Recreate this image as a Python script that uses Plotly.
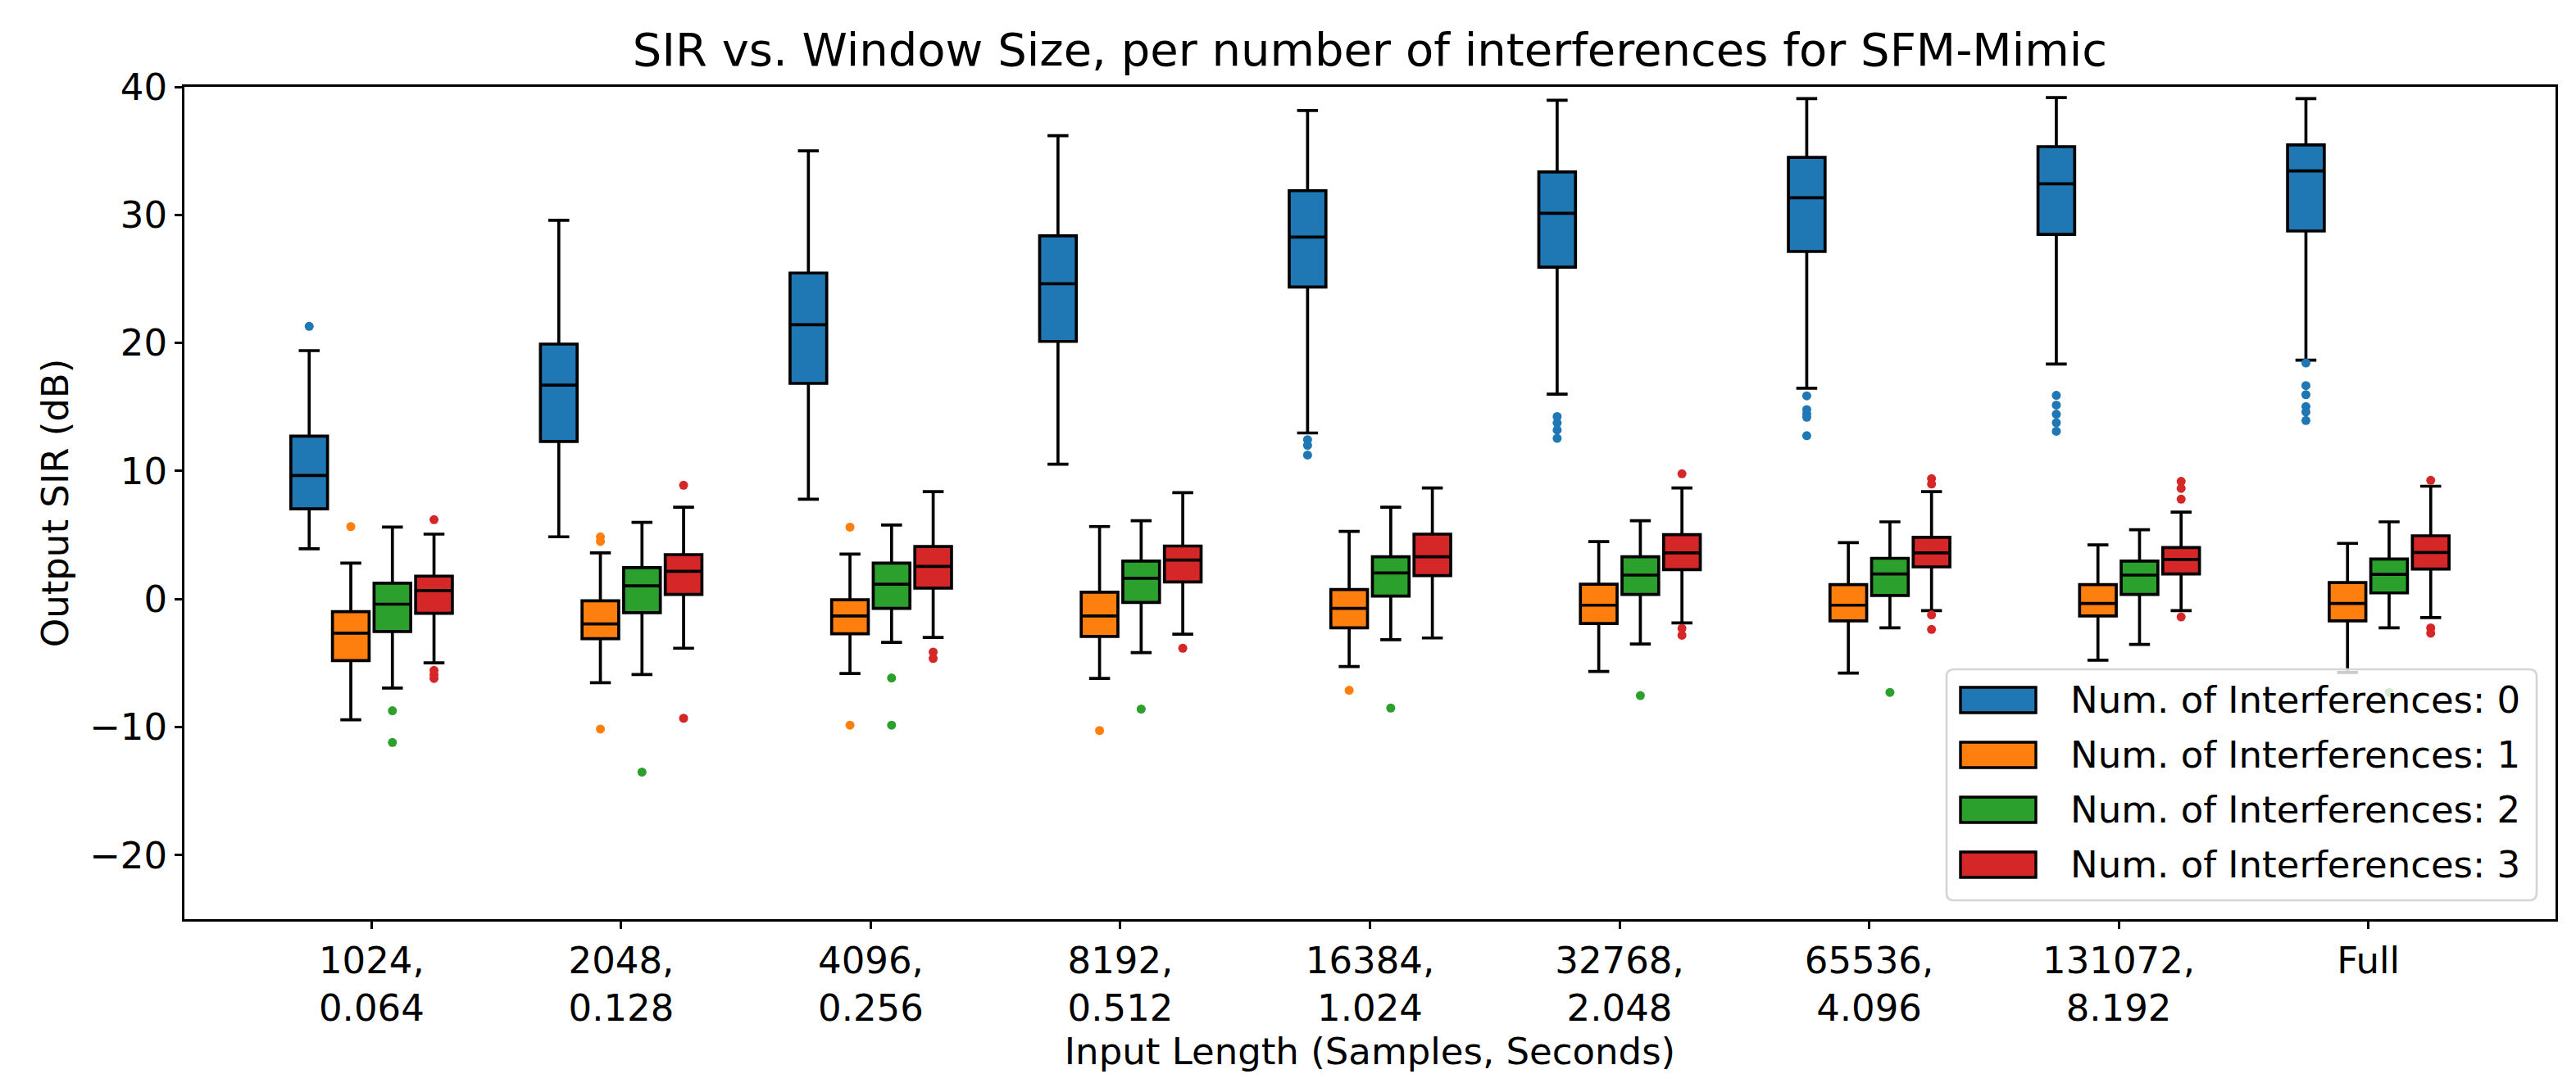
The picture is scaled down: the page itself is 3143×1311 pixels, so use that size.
import plotly.graph_objects as go

# ---------------- data ----------------
categories = ["1024,<br>0.064", "2048,<br>0.128", "4096,<br>0.256", "8192,<br>0.512",
              "16384,<br>1.024", "32768,<br>2.048", "65536,<br>4.096", "131072,<br>8.192", "Full"]
series_names = ["Num. of Interferences: 0", "Num. of Interferences: 1",
                "Num. of Interferences: 2", "Num. of Interferences: 3"]
colors = ["#1f77b4", "#ff7f0e", "#2ca02c", "#d62728"]

# Interferences: 0
upper_0 = [19.40, 29.58, 35.00, 36.18, 38.15, 38.95, 39.08, 39.16, 39.08]
q3_0 = [12.72, 19.91, 25.46, 28.36, 31.89, 33.36, 34.49, 35.33, 35.46]
med_0 = [9.65, 16.71, 21.42, 24.62, 28.27, 30.12, 31.34, 32.43, 33.44]
q1_0 = [7.05, 12.30, 16.84, 20.12, 24.36, 25.92, 27.14, 28.48, 28.74]
lower_0 = [3.93, 4.86, 7.80, 10.53, 12.97, 16.00, 16.46, 18.35, 18.65]
out_0 = [[21.3], [], [], [], [12.45, 12.0, 11.25], [14.25, 13.75, 13.2, 12.55],
         [15.87, 14.8, 14.45, 14.2, 12.76], [15.91, 15.15, 14.44, 13.77, 13.10],
         [18.44, 16.67, 15.96, 15.03, 14.61, 13.94]]

# Interferences: 1
upper_1 = [2.80, 3.60, 3.51, 5.66, 5.28, 4.48, 4.40, 4.23, 4.35]
q3_1 = [-0.98, -0.14, -0.06, 0.53, 0.74, 1.16, 1.12, 1.12, 1.28]
med_1 = [-2.66, -1.95, -1.32, -1.32, -0.73, -0.48, -0.48, -0.35, -0.35]
q1_1 = [-4.81, -3.09, -2.71, -2.92, -2.25, -1.91, -1.70, -1.32, -1.70]
lower_1 = [-9.43, -6.53, -5.82, -6.20, -5.27, -5.65, -5.78, -4.77, -5.73]
out_1 = [[5.66], [4.86, 4.5, -10.15], [5.62, -9.85], [-10.27], [-7.12], [], [], [], []]

# Interferences: 2
upper_2 = [5.62, 5.99, 5.78, 6.12, 7.17, 6.12, 6.03, 5.41, 6.03]
q3_2 = [1.24, 2.46, 2.80, 2.97, 3.30, 3.30, 3.18, 2.97, 3.13]
med_2 = [-0.40, 1.03, 1.16, 1.62, 2.04, 1.87, 1.96, 1.87, 1.92]
q1_2 = [-2.54, -1.07, -0.73, -0.27, 0.23, 0.36, 0.28, 0.36, 0.48]
lower_2 = [-6.95, -5.90, -3.38, -4.18, -3.17, -3.51, -2.25, -3.55, -2.25]
out_2 = [[-8.72, -11.20], [-13.51], [-6.16, -9.85], [-8.59], [-8.51], [-7.54], [-7.29], [], [-7.29]]

# Interferences: 3
upper_3 = [5.07, 7.17, 8.39, 8.31, 8.68, 8.68, 8.39, 6.79, 8.81]
q3_3 = [1.79, 3.47, 4.10, 4.14, 5.07, 5.03, 4.82, 4.02, 4.94]
med_3 = [0.66, 2.17, 2.55, 3.05, 3.30, 3.60, 3.60, 3.09, 3.64]
q1_3 = [-1.11, 0.36, 0.86, 1.33, 1.83, 2.30, 2.51, 1.96, 2.34]
lower_3 = [-4.98, -3.84, -3.00, -2.75, -3.04, -1.87, -0.90, -0.90, -1.45]
out_3 = [[6.20, -5.57, -5.9, -6.20], [8.89, -9.31], [-4.14, -4.64], [-3.84], [],
         [9.78, -2.29, -2.83], [9.40, 8.98, -1.24, -2.37], [9.19, 8.64, 7.80, -1.40],
         [9.27, -2.25, -2.67]]

y_tickvals = [-20, -10, 0, 10, 20, 30, 40]
y_ticktext = ["\u221220", "\u221210", "0", "10", "20", "30", "40"]

title_text = "SIR vs. Window Size, per number of interferences for SFM-Mimic"
x_title = "Input Length (Samples, Seconds)"
y_title = "Output SIR (dB)"

# ---------------- figure ----------------
FONT = "DejaVu Sans"
W, H = 3143, 1311
ML, MR, MT, MB = 217, 33, 98, 197
PW, PH = W - ML - MR, H - MT - MB

stats = [
    (upper_0, q3_0, med_0, q1_0, lower_0, out_0),
    (upper_1, q3_1, med_1, q1_1, lower_1, out_1),
    (upper_2, q3_2, med_2, q1_2, lower_2, out_2),
    (upper_3, q3_3, med_3, q1_3, lower_3, out_3),
]
n_groups = len(categories)
step = 1.0 / 6.0

fig = go.Figure()
for k, (up, q3, md, q1, lo, outs) in enumerate(stats):
    pos = [g + (k - 1.5) * step for g in range(n_groups)]
    fig.add_trace(go.Box(
        x=pos, q1=q1, median=md, q3=q3, lowerfence=lo, upperfence=up,
        boxpoints=False, width=0.147, whiskerwidth=0.57,
        fillcolor=colors[k], line=dict(color="black", width=3.7),
        name=series_names[k], showlegend=False,
    ))
    ox, oy = [], []
    for g, vals in enumerate(outs):
        for v in vals:
            ox.append(pos[g])
            oy.append(v)
    fig.add_trace(go.Scatter(
        x=ox, y=oy, mode="markers",
        marker=dict(color=colors[k], size=11, line=dict(width=0)),
        showlegend=False, hoverinfo="y",
    ))

axis_common = dict(
    showline=True, mirror=True, linecolor="black", linewidth=2.8,
    ticks="outside", ticklen=9, tickwidth=2.6, tickcolor="black",
    tickfont=dict(family=FONT, size=45, color="black"),
    showgrid=False, zeroline=False,
)

fig.update_layout(
    width=W, height=H,
    margin=dict(l=ML, r=MR, t=MT, b=MB, pad=0),
    plot_bgcolor="white", paper_bgcolor="white",
    font=dict(family=FONT, size=45, color="black"),
    title=dict(text=title_text, font=dict(family=FONT, size=56, color="black"),
               x=0.5, xref="paper", xanchor="center",
               y=1 - 52 / H, yref="container", yanchor="middle"),
    xaxis=dict(range=[-0.75, 8.75], tickmode="array", tickvals=list(range(n_groups)),
               ticktext=categories,
               title=dict(text=x_title, font=dict(family=FONT, size=45), standoff=2),
               **axis_common),
    yaxis=dict(range=[-25, 40], tickmode="array", tickvals=y_tickvals, ticktext=y_ticktext,
               title=dict(text=y_title, font=dict(family=FONT, size=45), standoff=12),
               **axis_common),
    showlegend=False,
)

# ---------------- legend (drawn manually, matplotlib style) ----------------
def xp(px):
    return (px - ML) / PW


def yp(py):
    return (MT + PH - py) / PH


def rounded_rect(x0, y0, x1, y1, r):
    # pixel coordinates -> paper path with rounded corners
    rx, ry = r / PW, r / PH
    X0, X1 = xp(x0), xp(x1)
    Y0, Y1 = yp(y0), yp(y1)  # Y0 top (larger), Y1 bottom
    return (f"M {X0+rx},{Y0} L {X1-rx},{Y0} Q {X1},{Y0} {X1},{Y0-ry} "
            f"L {X1},{Y1+ry} Q {X1},{Y1} {X1-rx},{Y1} "
            f"L {X0+rx},{Y1} Q {X0},{Y1} {X0},{Y1+ry} "
            f"L {X0},{Y0-ry} Q {X0},{Y0} {X0+rx},{Y0} Z")


fig.add_shape(type="path", xref="paper", yref="paper",
              path=rounded_rect(2367, 809, 3087, 1091, 9),
              fillcolor="rgba(255,255,255,0.8)", line=dict(color="#d5d5d5", width=2.6),
              layer="above")
row0, row_gap = 846.5, 67
for k, name in enumerate(series_names):
    cy = row0 + k * row_gap
    fig.add_shape(type="rect", xref="paper", yref="paper",
                  x0=xp(2384), x1=xp(2476), y0=yp(cy - 15.5), y1=yp(cy + 15.5),
                  fillcolor=colors[k], line=dict(color="black", width=3.4), layer="above")
    fig.add_annotation(text=name, xref="paper", yref="paper", x=xp(2516), y=yp(cy),
                       xanchor="left", yanchor="middle", showarrow=False,
                       font=dict(family=FONT, size=45, color="black"))

fig.write_html("out.html")
